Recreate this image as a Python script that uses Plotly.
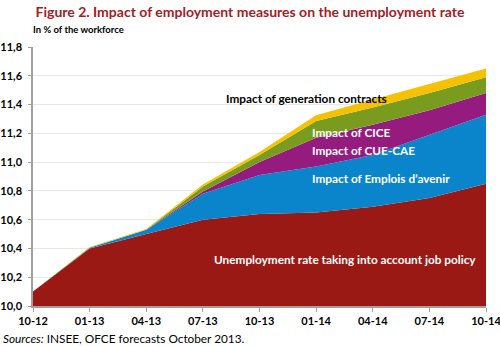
import plotly.graph_objects as go

# Quarters shown on the horizontal axis
quarters = ["10-12", "01-13", "04-13", "07-13", "10-13", "01-14", "04-14", "07-14", "10-14"]

# Unemployment rate taking into account job policy (% of the workforce)
unemployment = [10.10, 10.40, 10.50, 10.60, 10.64, 10.65, 10.69, 10.75, 10.85]
# Contributions of each measure (percentage points), stacked on top
emplois_avenir = [0.0, 0.005, 0.03, 0.18, 0.27, 0.32, 0.36, 0.44, 0.48]
cue_cae = [0.0, 0.0, 0.0, 0.015, 0.09, 0.20, 0.21, 0.17, 0.15]
cice = [0.0, 0.0, 0.0, 0.035, 0.05, 0.115, 0.12, 0.12, 0.11]
generation_contracts = [0.0, 0.005, 0.005, 0.015, 0.02, 0.04, 0.055, 0.065, 0.06]

y_ticks = [10.0, 10.2, 10.4, 10.6, 10.8, 11.0, 11.2, 11.4, 11.6, 11.8]

FONT = "Lato"
x_idx = list(range(len(quarters)))

series = [
    ("Unemployment rate taking into account job policy", unemployment, "#9A1915"),
    ("Impact of Emplois d'avenir", emplois_avenir, "#0A85CC"),
    ("Impact of CUE-CAE", cue_cae, "#951C7E"),
    ("Impact of CICE", cice, "#7A9C1E"),
    ("Impact of generation contracts", generation_contracts, "#F6C100"),
]

fig = go.Figure()
for name, vals, color in series:
    fig.add_trace(go.Scatter(
        x=x_idx, y=vals, name=name, mode="lines",
        stackgroup="one", line=dict(width=0, color=color),
        fillcolor=color, showlegend=False,
    ))

# In-chart labels for each band
labels = [
    ("Impact of generation contracts", 3.37, 11.445, "black"),
    ("Impact of CICE", 4.89, 11.207, "white"),
    ("Impact of CUE-CAE", 4.89, 11.082, "white"),
    ("Impact of Emplois d\u2019avenir", 4.89, 10.886, "white"),
    ("Unemployment rate taking into account job policy", 3.16, 10.32, "white"),
]
for text, xv, yv, col in labels:
    fig.add_annotation(x=xv, y=yv, xref="x", yref="y", text=f"<b>{text}</b>",
                       showarrow=False, xanchor="left", yanchor="middle",
                       font=dict(family=FONT, size=11.8, color=col))

W, H = 500, 346
L, R, T, B = 33, 14, 47, 40
pw, ph = W - L - R, H - T - B

fig.update_layout(
    width=W, height=H,
    margin=dict(l=L, r=R, t=T, b=B, autoexpand=False),
    paper_bgcolor="white", plot_bgcolor="white",
    separators=",.",
    title=dict(text="<b>Figure 2. Impact of employment measures on the unemployment rate</b>",
               x=0.5, xanchor="center", y=1 - 12.5 / H, yanchor="middle",
               font=dict(family=FONT, size=14, color="#A3201F")),
    xaxis=dict(
        range=[0, 8], tickvals=x_idx, ticktext=quarters,
        showgrid=False, zeroline=False, automargin=False,
        showline=True, linecolor="#A0A0A0", linewidth=1.5,
        ticks="outside", ticklen=4, tickcolor="#A0A0A0",
        ticklabeloverflow="allow",
        tickfont=dict(family=FONT, size=11, color="black", weight="bold"),
    ),
    yaxis=dict(
        range=[10.0, 11.8], tickvals=y_ticks, tickformat=".1f",
        showgrid=True, gridcolor="#E8E8E8", gridwidth=1, zeroline=False,
        automargin=False,
        showline=True, linecolor="#A0A0A0", linewidth=1.5,
        ticks="outside", ticklen=3, tickcolor="#A0A0A0",
        ticklabeloverflow="allow", ticklabelstandoff=4,
        tickfont=dict(family=FONT, size=11, color="black", weight="bold"),
    ),
)


def px_to_paper(px, py):
    return (px - L) / pw, 1 - (py - T) / ph


# Unit note above the plot and sources below it
sx, sy = px_to_paper(31, 30)
fig.add_annotation(x=sx, y=sy, xref="paper", yref="paper", text="<b>In % of the workforce</b>",
                   showarrow=False, xanchor="left", yanchor="middle",
                   font=dict(family=FONT, size=9.5, color="black"))
nx, ny = px_to_paper(1, 338)
fig.add_annotation(x=nx, y=ny, xref="paper", yref="paper",
                   text="<i>Sources:</i> INSEE, OFCE forecasts October 2013.",
                   showarrow=False, xanchor="left", yanchor="middle",
                   font=dict(family=FONT, size=11.8, color="black"))

fig.write_html("out.html")
